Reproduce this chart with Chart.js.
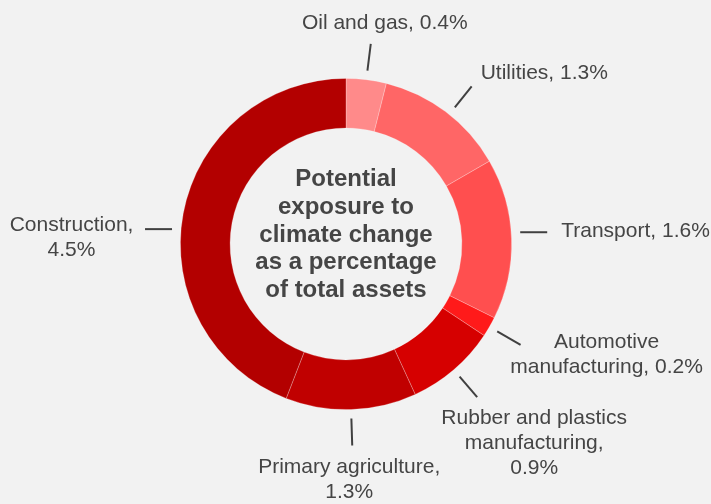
<!DOCTYPE html>
<html>
<head>
<meta charset="utf-8">
<script src="https://cdn.jsdelivr.net/npm/chart.js@4"></script>
<style>
  html, body { margin: 0; padding: 0; background: #f2f2f2; }
  #wrap { width: 711px; height: 504px; }
</style>
</head>
<body>
<div id="wrap"><canvas id="grafico" width="711" height="504"></canvas></div>
<script>
const sectors = ["Oil and gas", "Utilities", "Transport", "Automotive manufacturing",
  "Rubber and plastics manufacturing", "Primary agriculture", "Construction"];
const shares = [0.4, 1.3, 1.6, 0.2, 0.9, 1.3, 4.5];
const colours = ["#ff8a8a", "#ff6666", "#ff4f4f", "#ff1a1a", "#d60000", "#c00000", "#b30000"];
// label text, split in lines as in the picture
const labelLines = [
  ["Oil and gas, 0.4%"],
  ["Utilities, 1.3%"],
  ["Transport, 1.6%"],
  ["Automotive", "manufacturing, 0.2%"],
  ["Rubber and plastics", "manufacturing,", "0.9%"],
  ["Primary agriculture,", "1.3%"],
  ["Construction,", "4.5%"]
];
const centreTitle = ["Potential", "exposure to", "climate change", "as a percentage", "of total assets"];

// leader line tweak (degrees), flat = horizontal line, text offset from the line end
const labelLayout = [
  { turn: 0, flat: false, dx: 14, dy: -21, align: "center" },
  { turn: 1.5, flat: false, dx: 9, dy: -13, align: "left" },
  { turn: -2.1, flat: true, dx: 14, dy: -1, align: "left" },
  { turn: 0, flat: false, dx: 86, dy: 10, align: "center" },
  { turn: 0, flat: false, dx: 57, dy: 46, align: "center" },
  { turn: 0, flat: false, dx: -3, dy: 34, align: "center" },
  { turn: -5.7, flat: true, dx: -73.5, dy: 8.5, align: "center" }
];

const rotulos = {
  id: "rotulos",
  afterDraw(chart) {
    const ctx = chart.ctx;
    const arcs = chart.getDatasetMeta(0).data;
    ctx.save();
    // leader lines and labels
    arcs.forEach((arc, i) => {
      const lay = labelLayout[i];
      const mid = (arc.startAngle + arc.endAngle) / 2 + lay.turn * Math.PI / 180;
      const r0 = arc.outerRadius + 9, r1 = arc.outerRadius + 36;
      const x0 = arc.x + Math.cos(mid) * r0, y0 = arc.y + Math.sin(mid) * r0;
      let x1 = arc.x + Math.cos(mid) * r1, y1 = arc.y + Math.sin(mid) * r1;
      if (lay.flat) {
        x1 = x0 + Math.sign(Math.cos(mid)) * (r1 - r0);
        y1 = y0;
      }
      ctx.strokeStyle = "#404040";
      ctx.lineWidth = 2;
      ctx.beginPath();
      ctx.moveTo(x0, y0);
      ctx.lineTo(x1, y1);
      ctx.stroke();

      const lines = labelLines[i];
      const lh = 25;
      ctx.font = "21px 'Liberation Sans', Arial, sans-serif";
      ctx.fillStyle = "#454545";
      ctx.textBaseline = "middle";
      ctx.textAlign = lay.align;
      const cy = y1 + lay.dy;
      lines.forEach((t, k) => {
        ctx.fillText(t, x1 + lay.dx, cy + (k - (lines.length - 1) / 2) * lh);
      });
    });
    // title in the hole
    const a = arcs[0];
    ctx.font = "bold 24px 'Liberation Sans', Arial, sans-serif";
    ctx.fillStyle = "#454545";
    ctx.textAlign = "center";
    ctx.textBaseline = "middle";
    centreTitle.forEach((t, k) => {
      ctx.fillText(t, a.x, a.y - 9 + (k - 2) * 27.6);
    });
    ctx.restore();
  }
};

new Chart(document.getElementById("grafico").getContext("2d"), {
  type: "doughnut",
  data: {
    labels: sectors,
    datasets: [{
      data: shares,
      backgroundColor: colours,
      borderColor: "rgba(255,255,255,0.3)",
      borderWidth: 0.8,
      hoverOffset: 0
    }]
  },
  options: {
    responsive: false,
    animation: false,
    cutout: "70%",
    layout: { padding: { left: 180, right: 199, top: 78, bottom: 94 } },
    plugins: {
      legend: { display: false },
      tooltip: { enabled: false }
    }
  },
  plugins: [rotulos]
});
</script>
</body>
</html>
